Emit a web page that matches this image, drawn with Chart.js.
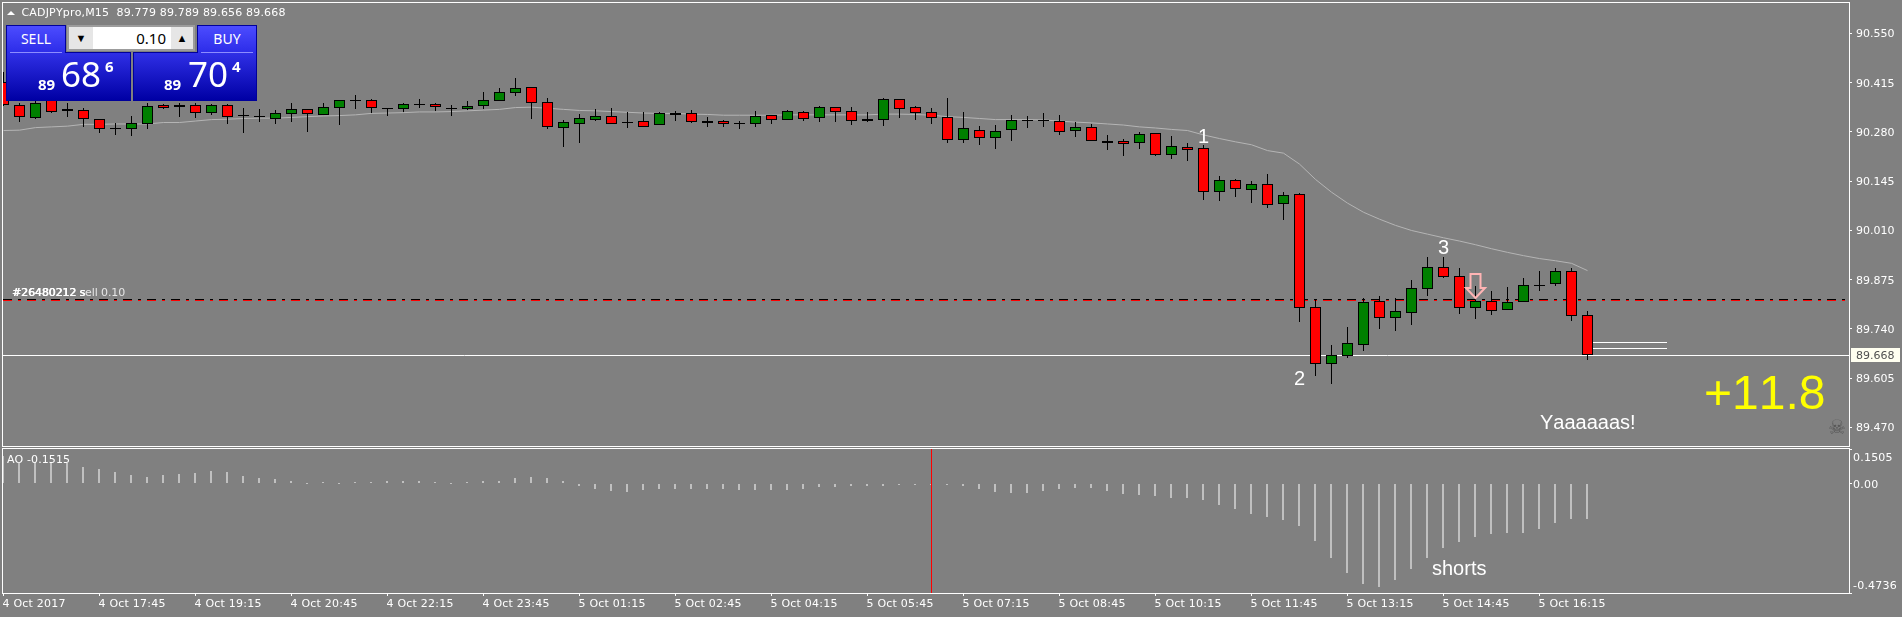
<!DOCTYPE html>
<html><head><meta charset="utf-8">
<script src="https://cdn.jsdelivr.net/npm/chart.js@4"></script>
<style>
html,body{margin:0;padding:0;background:#808080;width:1902px;height:617px;overflow:hidden}
canvas{position:absolute;left:0}
#main{top:0}#sub{top:448px}
.p{position:absolute;box-sizing:border-box;color:#fff;font-family:"Noto Sans",sans-serif;white-space:nowrap}
.btn{background:linear-gradient(#4c4cff,#2c2ce8);border:1px solid #00009a;border-bottom:none;height:28px;font-size:14px;text-align:center;line-height:26px;top:25px;width:60px}
.btn i{position:absolute;left:3px;right:3px;bottom:0;height:1px;background:#8c8cff}
.box{top:52px;height:49px;background:linear-gradient(#2f2fe6,#0000a4);border:1px solid #00009a}
.box span{position:absolute}
.s{font-weight:700;font-size:15px}
.b{font-size:35px;line-height:35px}
.spin{left:67px;top:25px;width:128px;height:26px;background:#9c9c9c}
.spin div{position:absolute;top:2px;height:22px;color:#000;font-size:14px;text-align:center;line-height:22px}
</style></head><body>
<canvas id="main" width="1902" height="448"></canvas>
<canvas id="sub" width="1902" height="169"></canvas>

<div class="p btn" style="left:6px;z-index:2">SELL<i></i></div>
<div class="p btn" style="left:197px;z-index:2">BUY<i></i></div>
<div class="p box" style="left:6px;width:125px">
 <span class="s" style="left:31px;top:21px">89</span><span class="b" style="left:54px;top:3px">68</span><span class="s" style="left:98px;top:3px">6</span></div>
<div class="p box" style="left:133px;width:124px">
 <span class="s" style="left:30px;top:21px">89</span><span class="b" style="left:54px;top:3px">70</span><span class="s" style="left:98px;top:3px">4</span></div>
<div class="p spin" style="z-index:3">
 <div style="left:2px;width:24px;background:#e6e6e6;font-size:11px">&#9660;</div>
 <div style="left:26px;width:78px;background:#fff;text-align:right;font-size:15px;padding-right:5px;box-sizing:border-box">0.10</div>
 <div style="left:104px;width:22px;background:#e6e6e6;font-size:11px">&#9650;</div>
</div>

<script>
const opens=[90.417,90.353,90.319,90.368,90.337,90.339,90.315,90.290,90.289,90.302,
90.353,90.348,90.353,90.333,90.353,90.327,90.324,90.316,90.330,90.342,
90.327,90.347,90.367,90.367,90.346,90.344,90.356,90.356,90.345,90.344,
90.352,90.366,90.388,90.403,90.361,90.292,90.303,90.313,90.323,90.307,
90.309,90.300,90.331,90.331,90.309,90.309,90.304,90.303,90.326,90.314,
90.334,90.319,90.348,90.337,90.315,90.314,90.370,90.348,90.334,90.320,
90.259,90.286,90.264,90.286,90.312,90.312,90.309,90.284,90.293,90.254,
90.254,90.251,90.276,90.218,90.238,90.235,90.116,90.148,90.120,90.137,
90.082,90.109,89.800,89.645,89.667,89.697,89.816,89.771,89.785,89.850,
89.909,89.884,89.798,89.816,89.791,89.813,89.860,89.863,89.898,89.779];
const closes=[90.353,90.322,90.359,90.335,90.342,90.315,90.287,90.290,90.304,90.350,
90.347,90.353,90.333,90.353,90.322,90.327,90.320,90.331,90.342,90.330,
90.348,90.367,90.367,90.347,90.346,90.356,90.356,90.348,90.342,90.350,
90.367,90.389,90.400,90.359,90.295,90.307,90.318,90.323,90.303,90.307,
90.295,90.331,90.327,90.308,90.305,90.303,90.304,90.323,90.314,90.337,
90.316,90.348,90.336,90.311,90.311,90.370,90.344,90.333,90.319,90.259,
90.290,90.264,90.284,90.312,90.312,90.309,90.281,90.293,90.256,90.251,
90.248,90.274,90.218,90.241,90.231,90.115,90.148,90.123,90.137,90.081,
90.106,89.798,89.643,89.670,89.701,89.813,89.771,89.788,89.851,89.909,
89.883,89.798,89.816,89.790,89.813,89.860,89.860,89.898,89.776,89.668];
const highs=[90.444,90.360,90.365,90.373,90.360,90.345,90.316,90.304,90.323,90.360,
90.358,90.360,90.360,90.358,90.358,90.346,90.343,90.340,90.360,90.342,
90.359,90.367,90.381,90.371,90.347,90.359,90.370,90.359,90.353,90.365,
90.389,90.400,90.428,90.403,90.372,90.312,90.329,90.343,90.346,90.334,
90.334,90.334,90.338,90.339,90.320,90.312,90.309,90.337,90.326,90.339,
90.337,90.350,90.348,90.348,90.334,90.372,90.370,90.350,90.345,90.372,
90.334,90.296,90.298,90.327,90.324,90.331,90.327,90.307,90.301,90.272,
90.260,90.279,90.276,90.268,90.249,90.243,90.158,90.150,90.145,90.164,
90.115,90.112,89.819,89.695,89.745,89.824,89.830,89.824,89.873,89.936,
89.936,89.906,89.857,89.843,89.854,89.879,89.898,89.906,89.906,89.789];
const lows=[90.352,90.308,90.316,90.332,90.321,90.295,90.277,90.272,90.269,90.288,
90.343,90.321,90.318,90.327,90.302,90.277,90.307,90.302,90.307,90.280,
90.327,90.299,90.343,90.332,90.324,90.335,90.346,90.338,90.324,90.339,
90.343,90.365,90.379,90.316,90.289,90.240,90.251,90.311,90.303,90.292,
90.295,90.300,90.311,90.305,90.295,90.295,90.289,90.295,90.303,90.314,
90.311,90.308,90.308,90.300,90.308,90.297,90.319,90.314,90.303,90.251,
90.251,90.245,90.234,90.256,90.292,90.295,90.273,90.267,90.256,90.231,
90.215,90.234,90.215,90.207,90.201,90.094,90.092,90.103,90.086,90.073,
90.040,89.760,89.612,89.590,89.661,89.680,89.741,89.735,89.752,89.831,
89.881,89.782,89.768,89.777,89.791,89.813,89.843,89.859,89.763,89.656];
const maValues=[90.284,90.285,90.292,90.294,90.296,90.301,90.301,90.302,90.302,90.302,
90.306,90.306,90.310,90.314,90.315,90.317,90.318,90.318,90.320,90.322,
90.324,90.325,90.327,90.331,90.332,90.333,90.335,90.335,90.336,90.338,
90.340,90.342,90.347,90.348,90.345,90.342,90.339,90.338,90.336,90.334,
90.332,90.331,90.331,90.329,90.328,90.326,90.326,90.326,90.326,90.327,
90.327,90.327,90.327,90.327,90.327,90.329,90.329,90.328,90.326,90.322,
90.320,90.317,90.314,90.314,90.314,90.313,90.310,90.307,90.305,90.302,
90.299,90.294,90.291,90.287,90.284,90.272,90.262,90.253,90.245,90.229,
90.222,90.192,90.150,90.115,90.085,90.060,90.041,90.024,90.010,90.000,
89.990,89.981,89.971,89.960,89.950,89.941,89.933,89.927,89.920,89.900];
const aoValues=[.120,.088,.095,.095,.091,.071,.064,.051,.038,.029,
.038,.042,.046,.055,.051,.033,.025,.020,.012,.003,
.007,.003,.007,.007,.012,.012,.012,.007,.003,.007,
.012,.013,.026,.030,.026,.013,-.009,-.022,-.030,-.035,
-.026,-.022,-.022,-.022,-.022,-.022,-.026,-.026,-.026,-.026,
-.022,-.013,-.013,-.009,-.009,-.009,-.004,-.004,-.003,-.004,
-.009,-.022,-.035,-.039,-.039,-.030,-.023,-.019,-.019,-.030,
-.043,-.048,-.052,-.061,-.061,-.069,-.091,-.108,-.130,-.143,
-.156,-.182,-.247,-.321,-.386,-.434,-.447,-.416,-.368,-.321,
-.277,-.251,-.230,-.217,-.212,-.212,-.195,-.169,-.152,-.1515];
const timeLabels=["4 Oct 2017","4 Oct 17:45","4 Oct 19:15","4 Oct 20:45","4 Oct 22:15","4 Oct 23:45","5 Oct 01:15","5 Oct 02:45","5 Oct 04:15","5 Oct 05:45","5 Oct 07:15","5 Oct 08:45","5 Oct 10:15","5 Oct 11:45","5 Oct 13:15","5 Oct 14:45","5 Oct 16:15"];
const timeLabelStep=6;
const priceTicks=[90.550,90.415,90.280,90.145,90.010,89.875,89.740,89.605,89.470];
const aoTicks=[0.1505,0,-0.4736];
const bidPrice=89.668;
const orderBlack=89.820, orderRed=89.817;
const shortLines=[89.702,89.686];
const shortLineSpan=[99.34,103.97];
const cursorIndex=58;
const titleText="CADJPYpro,M15  89.779 89.789 89.656 89.668";
const notes=[{t:"1",x:75,y:90.250,a:"center"},{t:"2",x:81,y:89.586,a:"center"},{t:"3",x:90,y:89.9455,a:"center"},
 {t:"Yaaaaaas!",x:96.03,y:89.465,a:"left"},{t:"+11.8",x:106.28,y:89.5207,a:"left",big:true}];
const subNote={t:"shorts",x:89.28,y:-0.3956};
const arrowAt={x:92,y:89.822};

const X_MIN=-0.03125, X_MAX=115.34375;
const FONT='"DejaVu Sans"', ARIAL='"Liberation Sans"';
const idx=opens.map((_,i)=>i);
const bodyColor=idx.map(i=>closes[i]>opens[i]?'#008000':closes[i]<opens[i]?'#ff0000':'#000');

const snap={id:'snap',afterDatasetsUpdate(chart){
 chart.data.datasets.forEach((ds,d)=>{
  const m=chart.getDatasetMeta(d);
  if(ds.snapBars)m.data.forEach(el=>{
    if(ds.snapBars==='shift')el.x=Math.floor(el.x);
    el.y=Math.round(el.y);el.base=Math.round(el.base);
    if(el.y===el.base)el.base=el.y+1;});
  if(ds.snapLine)m.data.forEach(p=>{p.y=Math.floor(p.y)+.5;});
 });
}};
const frame={id:'frame',afterDatasetsDraw(c){
 const a=c.chartArea,x=c.ctx;x.save();x.strokeStyle='#fff';x.lineWidth=1;
 x.strokeRect(a.left-.5,a.top-.5,a.right-a.left+1,a.bottom-a.top+1);x.restore();
}};
const hline=(v,x0,x1,color,extra)=>Object.assign({type:'line',data:[{x:x0,y:v},{x:x1,y:v}],borderColor:color,borderWidth:1,pointRadius:0,tension:0,snapLine:true,order:6},extra||{});

const mainText={id:'mainText',afterDraw(c){
 const x=c.ctx,ys=c.scales.y,xs=c.scales.x;x.save();
 x.fontKerning='none';
 x.fillStyle='#fff';x.beginPath();x.moveTo(7,15);x.lineTo(15,15);x.lineTo(11,11);x.closePath();x.fill();
 x.textBaseline='middle';x.textAlign='left';x.font='11px '+FONT;
 x.letterSpacing='0.17px';
 x.fillText(titleText,21.5,13);
 x.letterSpacing='-0.12px';
 const oy=ys.getPixelForValue(orderBlack)-7;
 x.fillStyle='#e6e6e6';x.fillText('#26480212 sell 0.10',12,oy);
 x.fillStyle='#fff';x.fillText('#26480212 s',12,oy);x.fillText('#26480212 s',12.4,oy);
 x.letterSpacing='0px';
 x.textBaseline='alphabetic';
 notes.forEach(n=>{x.font=(n.big?'48px ':'20px ')+ARIAL;x.fillStyle=n.big?'#ffff00':'#fff';x.textAlign=n.a;
  x.fillText(n.t,xs.getPixelForValue(n.x),ys.getPixelForValue(n.y));});
 const ax=xs.getPixelForValue(arrowAt.x),ay=ys.getPixelForValue(arrowAt.y);
 x.strokeStyle='#ffb4b4';x.lineWidth=2;x.beginPath();
 x.moveTo(ax-5,ay-25);x.lineTo(ax+5,ay-25);x.lineTo(ax+5,ay-11);x.lineTo(ax+9.5,ay-11);x.lineTo(ax,ay-1);
 x.lineTo(ax-9.5,ay-11);x.lineTo(ax-5,ay-11);x.closePath();x.stroke();
 const by=ys.getPixelForValue(bidPrice);
 x.fillStyle='#fffff0';x.fillRect(1851,Math.floor(by)-7,49,14);
 x.fillStyle='#505050';x.font='11px '+FONT;x.textAlign='left';x.textBaseline='middle';
 x.fillText(bidPrice.toFixed(3),1856,Math.floor(by)+1);
 x.fillStyle='#585858';x.font='20px '+FONT;x.textAlign='center';x.fillText('\u2620',1837,429);
 x.restore();
}};
const subText={id:'subText',beforeDraw(c){
 c.ctx.letterSpacing='0.22px';
 if(c.$moved)return;c.$moved=true;
 const it=c.scales.y.getLabelItems(c.chartArea);
 it[0].options.translation[1]+=8;it[2].options.translation[1]-=8;
},afterDraw(c){
 const x=c.ctx;x.save();x.fillStyle='#fff';x.textBaseline='middle';x.textAlign='left';x.font='11px '+FONT;
 x.letterSpacing='0.1px';x.fontKerning='none';
 x.fillText('AO -0.1515',7,12.5);
 x.letterSpacing='0px';
 x.font='20px '+ARIAL;x.textBaseline='alphabetic';
 x.fillText(subNote.t,c.scales.x.getPixelForValue(subNote.x),c.scales.y.getPixelForValue(subNote.y));
 x.restore();
}};
const yAxis=(ticks,min,max,fmt,pad)=>({type:'linear',position:'right',min,max,
 afterBuildTicks(s){s.ticks=ticks.map(value=>({value}));},
 afterFit(s){s.width=53;s.paddingTop=0;s.paddingBottom=0;},
 border:{display:false},
 grid:{drawOnChartArea:false,drawTicks:true,tickLength:3,color:'#fff',tickColor:'#fff',tickWidth:1},
 ticks:{color:'#fff',font:{family:'DejaVu Sans',size:11},padding:pad,labelOffset:1,callback:fmt,autoSkip:false,includeBounds:false}});

Chart.defaults.animation=false;
new Chart(document.getElementById('main'),{type:'bar',
 data:{datasets:[
  {type:'bar',data:idx.map(i=>({x:i,y:[opens[i],closes[i]]})),backgroundColor:bodyColor,borderColor:'#000',borderWidth:1,borderSkipped:false,inflateAmount:0,grouped:false,barThickness:11,maxBarThickness:11,barPercentage:1,categoryPercentage:1,order:1,snapBars:'y',clip:0},
  {type:'bar',data:idx.map(i=>({x:i,y:[lows[i],highs[i]]})),backgroundColor:'#000',borderWidth:0,inflateAmount:0,grouped:false,barThickness:1,maxBarThickness:1,barPercentage:1,categoryPercentage:1,order:2,snapBars:'y',clip:0},
  {type:'line',data:idx.map(i=>({x:i,y:maValues[i]})),borderColor:'#b4b4b4',borderWidth:1,pointRadius:0,tension:0,order:3},
  hline(orderBlack,X_MIN,X_MAX,'#000',{borderDash:[9,6,3,6],order:5}),
  hline(orderRed,X_MIN,X_MAX,'#ff0000',{borderDash:[9,6,3,6],order:5}),
  hline(bidPrice,X_MIN,X_MAX,'#fff',{order:6}),
  hline(shortLines[0],shortLineSpan[0],shortLineSpan[1],'#fff',{order:6}),
  hline(shortLines[1],shortLineSpan[0],shortLineSpan[1],'#fff',{order:6})
 ]},
 options:{responsive:false,devicePixelRatio:1,animation:false,
  layout:{padding:{left:3,top:3,right:0,bottom:2}},
  plugins:{legend:{display:false},tooltip:{enabled:false}},events:[],
  scales:{x:{type:'linear',display:false,min:X_MIN,max:X_MAX,offset:false,grid:{offset:false}},
   y:yAxis(priceTicks,89.4192,90.6336,v=>v.toFixed(3),4)}},
 plugins:[snap,frame,mainText]});

new Chart(document.getElementById('sub'),{type:'bar',
 data:{datasets:[
  {type:'bar',data:idx.map(i=>({x:i,y:aoValues[i]})),backgroundColor:'#c0c0c0',borderWidth:0,inflateAmount:0,grouped:false,barThickness:2,maxBarThickness:2,barPercentage:1,categoryPercentage:1,order:2,snapBars:'shift'},
  {type:'line',data:[{x:cursorIndex,y:aoTicks[0]},{x:cursorIndex,y:aoTicks[2]}],borderColor:'#ff0000',borderWidth:1,pointRadius:0,tension:0,order:1}
 ]},
 options:{responsive:false,devicePixelRatio:1,animation:false,
  layout:{padding:{left:3,top:1,right:0,bottom:0}},
  plugins:{legend:{display:false},tooltip:{enabled:false}},events:[],
  scales:{
   x:{type:'linear',min:X_MIN,max:X_MAX,offset:false,
    afterBuildTicks(s){s.ticks=timeLabels.map((_,k)=>({value:k*timeLabelStep}));},
    afterFit(s){s.height=24;s.paddingLeft=0;s.paddingRight=0;},
    border:{display:false},
    grid:{offset:false,drawOnChartArea:false,tickLength:3,tickColor:'#fff',color:'#fff'},
    ticks:{color:'#fff',font:{family:'DejaVu Sans',size:11},padding:2,align:'start',labelOffset:-1,maxRotation:0,minRotation:0,autoSkip:false,includeBounds:false,
      callback:v=>timeLabels[Math.round(v/timeLabelStep)]}},
   y:yAxis(aoTicks,aoTicks[2],aoTicks[0],v=>v===0?'0.00':v.toFixed(4),1)}},
 plugins:[snap,frame,subText]});
</script>
</body></html>
